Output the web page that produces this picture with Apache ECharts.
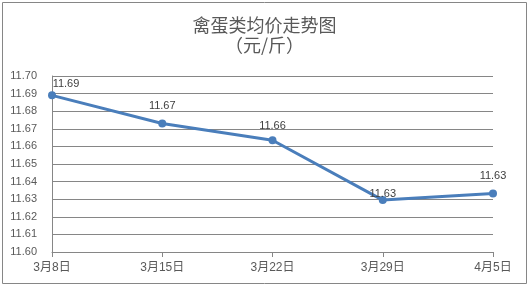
<!DOCTYPE html>
<html><head><meta charset="utf-8">
<script src="https://cdn.jsdelivr.net/npm/echarts@6/dist/echarts.min.js"></script>
<style>html,body{margin:0;padding:0;background:#fff}#c{width:529px;height:287px}</style>
</head><body><div id="c"></div>
<script>
const titleText = '禽蛋类均价走势图\n（元/斤）';
const categories = ['3月8日', '3月15日', '3月22日', '3月29日', '4月5日'];
const values = [11.689, 11.673, 11.6635, 11.6295, 11.6333];
const labelOffsets = [[14, 6], [0, 0], [0, 3], [0, 11], [0, 0]];

const chart = echarts.init(document.getElementById('c'));
const fontFam = '"Liberation Sans", "Noto Sans CJK SC", sans-serif';
chart.setOption({
  animation: false,
  backgroundColor: '#fff',
  title: {
    text: titleText, left: 'center', top: 10,
    textStyle: { fontSize: 18, fontWeight: 'normal', color: '#595959', lineHeight: 20, fontFamily: '"Noto Sans CJK SC", sans-serif' }
  },
  graphic: [{ type: 'rect', shape: { x: 2.5, y: 2.5, width: 524, height: 281 }, style: { fill: 'none', stroke: '#868686', lineWidth: 1 }, silent: true }],
  grid: { left: 52, right: 36, top: 76, bottom: 35 },
  xAxis: {
    type: 'category', data: categories, boundaryGap: false,
    axisLine: { lineStyle: { color: '#868686', width: 1 } },
    axisTick: { show: true, length: 5, lineStyle: { color: '#868686' } },
    axisLabel: { color: '#595959', fontSize: 12, margin: 10, fontFamily: fontFam }
  },
  yAxis: {
    type: 'value', min: 11.60, max: 11.70, interval: 0.01,
    axisLine: { show: true, lineStyle: { color: '#868686', width: 1 } },
    axisTick: { show: false },
    splitLine: { lineStyle: { color: '#868686', width: 1 } },
    axisLabel: { color: '#595959', fontSize: 11, margin: 15, fontFamily: fontFam, formatter: v => v.toFixed(2) }
  },
  series: [{
    type: 'line', data: values.map((v, i) => ({ value: v, label: { offset: labelOffsets[i] } })),
    symbol: 'circle', symbolSize: 8,
    lineStyle: { color: '#4a7ebb', width: 3 },
    itemStyle: { color: '#4a7ebb' },
    label: { show: true, position: 'top', distance: 8, color: '#404040', fontSize: 11, fontFamily: fontFam, formatter: p => p.value.toFixed(2) }
  }]
});
</script></body></html>
